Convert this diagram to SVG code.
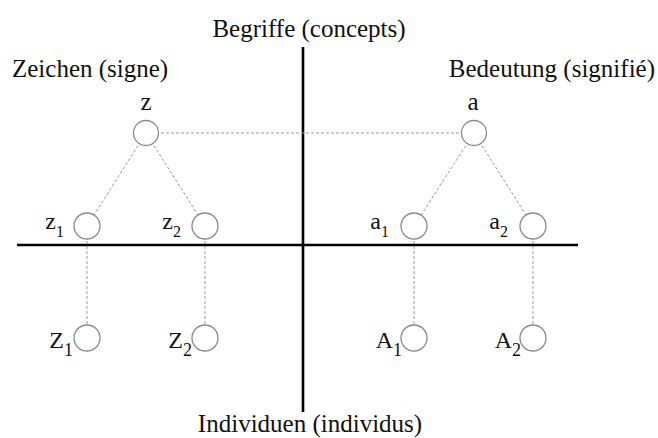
<svg xmlns="http://www.w3.org/2000/svg" width="658" height="438" viewBox="0 0 658 438">
<style>
text{font-family:"Liberation Serif","Times New Roman",serif;fill:#111;font-size:25px}
.t{font-size:25px}
.l{font-size:24px;text-anchor:end}
.s{font-size:16px}
.S{font-size:18px}
.n{fill:#fff;stroke:#8a8a8a;stroke-width:1.3}
.c{stroke:#9a9a9a;stroke-width:1;stroke-dasharray:3 2;fill:none}
.ax{stroke:#000;stroke-width:2.6}
</style>
<rect width="658" height="438" fill="#fff"/>
<g id="axes">
<line class="ax" x1="303" y1="47" x2="303" y2="412"/>
<line class="ax" x1="17" y1="245" x2="578" y2="245"/>
</g>
<g id="titles">
<text class="t" x="309" y="37" text-anchor="middle">Begriffe (concepts)</text>
<text class="t" x="12" y="77">Zeichen (signe)</text>
<text class="t" x="655" y="77" text-anchor="end">Bedeutung (signifié)</text>
<text class="t" x="310" y="432" text-anchor="middle">Individuen (individus)</text>
</g>
<g id="connectors">
<line class="c" x1="146" y1="133" x2="474" y2="133"/>
<line class="c" x1="146" y1="133" x2="87" y2="226"/>
<line class="c" x1="146" y1="133" x2="205" y2="226"/>
<line class="c" x1="474" y1="133" x2="414" y2="226"/>
<line class="c" x1="474" y1="133" x2="533" y2="226"/>
<line class="c" x1="87" y1="226" x2="87" y2="338"/>
<line class="c" x1="205" y1="226" x2="205" y2="338"/>
<line class="c" x1="414" y1="226" x2="414" y2="338"/>
<line class="c" x1="533" y1="226" x2="533" y2="338"/>
</g>
<g id="node-z"><circle class="n" cx="146" cy="133" r="12.5"/><text x="146" y="110" text-anchor="middle" font-size="24">z</text></g>
<g id="node-a"><circle class="n" cx="474" cy="133" r="12.5"/><text x="473" y="110" text-anchor="middle" font-size="24">a</text></g>
<g id="node-z1"><circle class="n" cx="87" cy="226" r="13"/><text class="l" x="64" y="229">z<tspan class="s" dy="8">1</tspan></text></g>
<g id="node-z2"><circle class="n" cx="205" cy="226" r="13"/><text class="l" x="181" y="229">z<tspan class="s" dy="8">2</tspan></text></g>
<g id="node-a1"><circle class="n" cx="414" cy="226" r="13"/><text class="l" x="389" y="229">a<tspan class="s" dy="8">1</tspan></text></g>
<g id="node-a2"><circle class="n" cx="533" cy="226" r="13"/><text class="l" x="508" y="229">a<tspan class="s" dy="8">2</tspan></text></g>
<g id="node-Z1"><circle class="n" cx="87" cy="338" r="13"/><text class="l" x="73" y="348">Z<tspan class="S" dy="8">1</tspan></text></g>
<g id="node-Z2"><circle class="n" cx="205" cy="338" r="13"/><text class="l" x="192" y="348">Z<tspan class="S" dy="8">2</tspan></text></g>
<g id="node-A1"><circle class="n" cx="414" cy="338" r="13"/><text class="l" x="402" y="348">A<tspan class="S" dy="8">1</tspan></text></g>
<g id="node-A2"><circle class="n" cx="533" cy="338" r="13"/><text class="l" x="521" y="348">A<tspan class="S" dy="8">2</tspan></text></g>
</svg>
